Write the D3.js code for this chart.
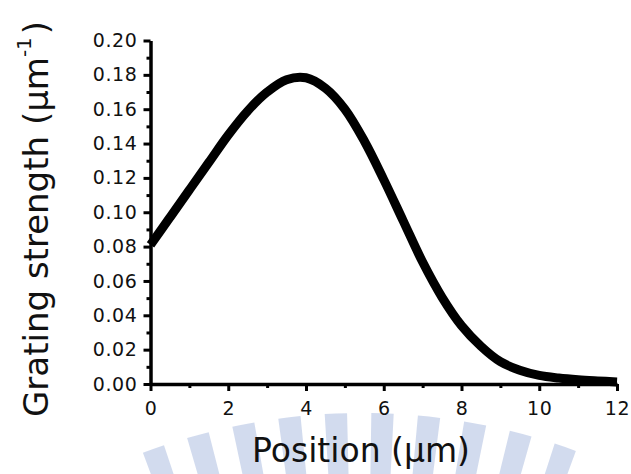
<!DOCTYPE html>
<html>
<head>
<meta charset="utf-8">
<script src="https://cdn.jsdelivr.net/npm/d3@7"></script>
<style>
  body { margin: 0; background: #fff; }
  svg { display: block; font-family: "DejaVu Sans", Verdana, sans-serif; }
</style>
</head>
<body>
<svg id="chart" width="631" height="474"></svg>
<script>
// values
var positions = [0, 0.5, 1, 1.5, 2, 2.5, 3, 3.5, 4, 4.5, 5, 5.5, 6, 6.5, 7, 7.5, 8, 8.5, 9, 9.5, 10, 10.5, 11, 11.5, 12];
var strength = [0.081, 0.097, 0.113, 0.129, 0.145, 0.159, 0.170, 0.1772, 0.1783, 0.1722, 0.160, 0.1415, 0.119, 0.095, 0.071, 0.0505, 0.034, 0.022, 0.013, 0.008, 0.005, 0.0035, 0.0025, 0.0018, 0.0012];
var xTicks = [0, 2, 4, 6, 8, 10, 12];
var xMinor = [1, 3, 5, 7, 9, 11];
var yTicks = [0, 0.02, 0.04, 0.06, 0.08, 0.10, 0.12, 0.14, 0.16, 0.18, 0.20];
var yMinor = [0.01, 0.03, 0.05, 0.07, 0.09, 0.11, 0.13, 0.15, 0.17, 0.19];

var svg = d3.select("#chart");

// faint watermark rays behind the bottom of the chart
var wm = svg.append("g").attr("transform", "translate(362,1035)");
var rayAngles = [-0.36, -0.285, -0.21, -0.135, -0.06, 0.015, 0.09, 0.165, 0.24, 0.315];
var arc = d3.arc().innerRadius(480).outerRadius(622);
wm.selectAll("path").data(rayAngles).enter().append("path")
  .attr("d", function(a){ return arc({startAngle: a, endAngle: a + 0.036}); })
  .attr("fill", "#c3cfe8")
  .attr("opacity", 0.75);

var x = d3.scaleLinear().domain([0, 12]).range([150.5, 617]);
var y = d3.scaleLinear().domain([0, 0.2]).range([384, 40.5]);

// minor ticks
svg.append("g")
  .attr("transform", "translate(0,384)")
  .call(d3.axisBottom(x).tickValues(xMinor).tickSize(4).tickFormat(""))
  .call(function(g){ g.select(".domain").remove(); });
svg.append("g")
  .attr("transform", "translate(150.5,0)")
  .call(d3.axisLeft(y).tickValues(yMinor).tickSize(4).tickFormat(""))
  .call(function(g){ g.select(".domain").remove(); });

var xAxis = svg.append("g")
  .attr("transform", "translate(0,384)")
  .call(d3.axisBottom(x).tickValues(xTicks).tickSize(7).tickSizeOuter(0).tickPadding(11).tickFormat(d3.format("d")));
var yAxis = svg.append("g")
  .attr("transform", "translate(150.5,0)")
  .call(d3.axisLeft(y).tickValues(yTicks).tickSize(7).tickSizeOuter(0).tickPadding(6).tickFormat(d3.format(".2f")));

svg.selectAll(".tick line").attr("stroke", "#000").attr("stroke-width", 3);
svg.selectAll(".domain").attr("stroke", "#000").attr("stroke-width", 3.5);
svg.selectAll(".tick text").attr("fill", "#111").style("font-size", "19px")
  .style("letter-spacing", "0.6px")
  .style("font-family", "'DejaVu Sans', Verdana, sans-serif");

// curve
var line = d3.line()
  .x(function(d, i){ return x(positions[i]); })
  .y(function(d){ return y(d); })
  .curve(d3.curveCatmullRom.alpha(0.5));

svg.append("path")
  .datum(strength)
  .attr("d", line)
  .attr("fill", "none")
  .attr("stroke", "#000")
  .attr("stroke-width", 9);

// axis titles
svg.append("text")
  .attr("x", 361).attr("y", 462)
  .attr("text-anchor", "middle")
  .style("font-size", "33px")
  .attr("fill", "#111")
  .text("Position (\u03bcm)");

var yl = svg.append("text")
  .attr("transform", "translate(48,417) rotate(-90)")
  .style("font-size", "34px")
  .attr("fill", "#111");
yl.append("tspan").text("Grating strength (\u03bcm");
yl.append("tspan").attr("dy", -17).style("font-size", "20px").text("-1");
yl.append("tspan").attr("dy", 17).attr("dx", 3).text(")");
</script>
</body>
</html>
